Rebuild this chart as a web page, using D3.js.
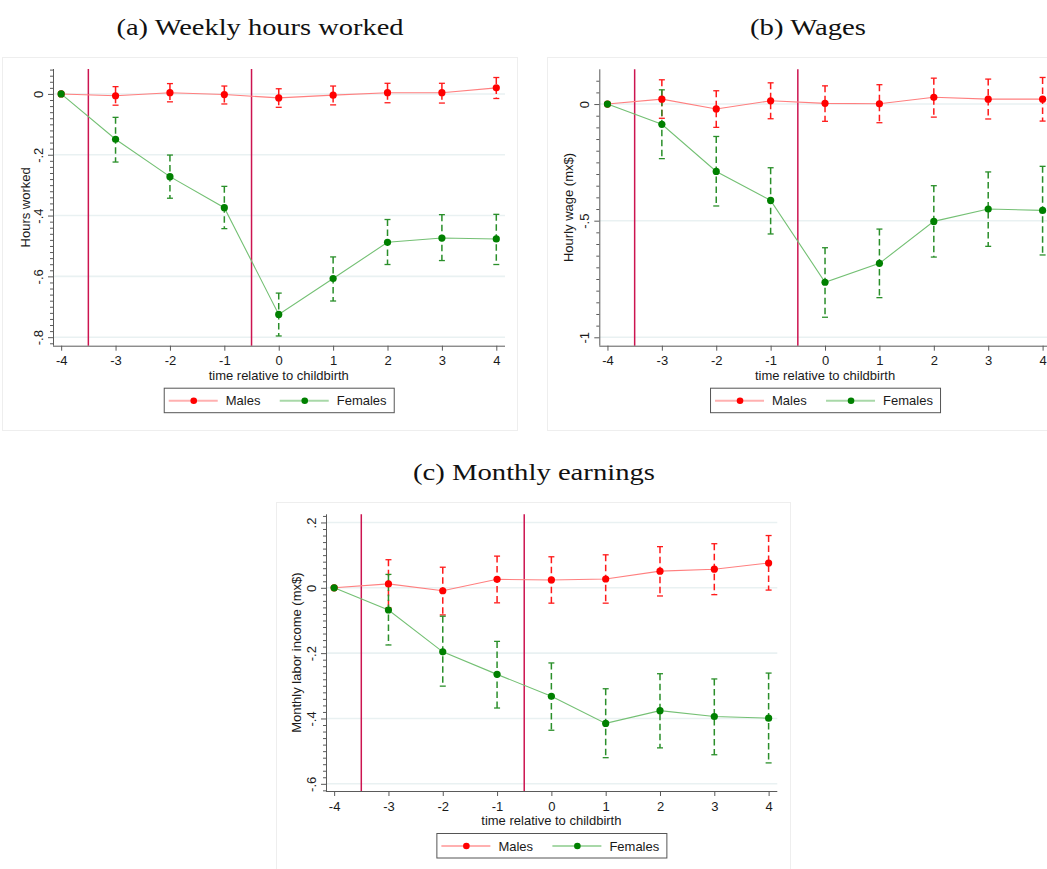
<!DOCTYPE html>
<html><head><meta charset="utf-8">
<script src="https://cdn.jsdelivr.net/npm/d3@7"></script>
<style>html,body{margin:0;padding:0;background:#fff;} svg{display:block;}</style>
</head><body>
<svg id="chart" width="1047" height="869"></svg>
<script>
// ---------------- DATA ----------------
const periods = [-4, -3, -2, -1, 0, 1, 2, 3, 4];
const eventLines = [-3.5, -0.5];
const xTicks = [-4, -3, -2, -1, 0, 1, 2, 3, 4];
const xTickLabels = ["-4", "-3", "-2", "-1", "0", "1", "2", "3", "4"];
const seriesNames = ["Males", "Females"];

// (a) Weekly hours worked
const hoursMale   = [0, -0.006, 0.004, -0.002, -0.013, -0.004, 0.004, 0.004, 0.020];
const hoursMaleLo = [null, -0.037, -0.026, -0.033, -0.044, -0.036, -0.029, -0.030, -0.015];
const hoursMaleHi = [null, 0.024, 0.034, 0.026, 0.017, 0.026, 0.035, 0.035, 0.054];
const hoursFemale   = [0, -0.149, -0.272, -0.374, -0.725, -0.607, -0.488, -0.474, -0.477];
const hoursFemaleLo = [null, -0.224, -0.343, -0.443, -0.796, -0.681, -0.561, -0.548, -0.561];
const hoursFemaleHi = [null, -0.077, -0.201, -0.304, -0.655, -0.536, -0.413, -0.397, -0.396];
const hoursTicks = [0, -0.2, -0.4, -0.6, -0.8];
const hoursTickLabels = ["0", "-.2", "-.4", "-.6", "-.8"];

// (b) Wages
const wageMale   = [0, 0.021, -0.021, 0.014, 0.003, 0.001, 0.029, 0.021, 0.021];
const wageMaleLo = [null, -0.061, -0.100, -0.063, -0.074, -0.080, -0.056, -0.064, -0.073];
const wageMaleHi = [null, 0.104, 0.057, 0.091, 0.078, 0.083, 0.111, 0.107, 0.114];
const wageFemale   = [0, -0.087, -0.289, -0.413, -0.764, -0.683, -0.503, -0.450, -0.456];
const wageFemaleLo = [null, -0.234, -0.437, -0.557, -0.914, -0.830, -0.656, -0.610, -0.647];
const wageFemaleHi = [null, 0.061, -0.139, -0.273, -0.616, -0.536, -0.350, -0.291, -0.267];
const wageTicks = [0, -0.5, -1];
const wageTickLabels = ["0", "-.5", "-1"];

// (c) Monthly earnings
const earnMale   = [0, 0.012, -0.009, 0.026, 0.024, 0.027, 0.051, 0.057, 0.076];
const earnMaleLo = [null, -0.061, -0.083, -0.046, -0.047, -0.047, -0.025, -0.021, -0.007];
const earnMaleHi = [null, 0.086, 0.063, 0.097, 0.095, 0.101, 0.126, 0.135, 0.160];
const earnFemale   = [0, -0.068, -0.196, -0.265, -0.332, -0.415, -0.376, -0.394, -0.399];
const earnFemaleLo = [null, -0.175, -0.301, -0.368, -0.436, -0.520, -0.490, -0.511, -0.536];
const earnFemaleHi = [null, 0.041, -0.087, -0.164, -0.230, -0.309, -0.263, -0.279, -0.261];
const earnTicks = [0.2, 0, -0.2, -0.4, -0.6];
const earnTickLabels = [".2", "0", "-.2", "-.4", "-.6"];

// ---------------- STYLE ----------------
const C = {
  maleMarker: "#ff0000", maleLine: "#ff7f7f", maleCI: "#ff1a1a", maleLegend: "#ffb0b0",
  femMarker: "#008000", femLine: "#74c074", femCI: "#2a8f2a", femLegend: "#a8d8a8",
  vline: "#cc1450", grid: "#e9f1f2", axis: "#5a5a5a", text: "#1a1a1a", frame: "#eeeeee"
};
const SANS = "Liberation Sans, Arial, sans-serif";
const SERIF = "Liberation Serif, Times New Roman, serif";
const FS = 13;

const svg = d3.select("#chart");

function panel(cfg) {
  const g = svg.append("g");
  // frame
  g.append("rect").attr("x", cfg.frame[0] + 0.5).attr("y", cfg.frame[1] + 0.5)
    .attr("width", cfg.frame[2] - cfg.frame[0]).attr("height", cfg.frame[3] - cfg.frame[1])
    .attr("fill", "#fff").attr("stroke", C.frame).attr("stroke-width", 1);

  const x = d3.scaleLinear().domain([-4.15, 4.16]).range([cfg.left, cfg.right]);
  const y = d3.scaleLinear().domain(cfg.ydom).range([cfg.bottom, cfg.top]);

  // grid
  g.append("g").selectAll("line").data(cfg.yTicks).join("line")
    .attr("x1", cfg.left).attr("x2", cfg.right)
    .attr("y1", d => y(d)).attr("y2", d => y(d))
    .attr("stroke", C.grid).attr("stroke-width", 1.6);

  // event lines
  g.append("g").selectAll("line").data(eventLines).join("line")
    .attr("x1", d => x(d)).attr("x2", d => x(d))
    .attr("y1", cfg.top).attr("y2", cfg.bottom)
    .attr("stroke", C.vline).attr("stroke-width", 1.5);

  // y axis (minor ticks)
  const minorStart = Math.ceil(cfg.ydom[0] / cfg.minor - 1e-6);
  const minorEnd = Math.floor(cfg.ydom[1] / cfg.minor + 1e-6);
  const minorTicks = d3.range(minorStart, minorEnd + 1).map(k => k * cfg.minor)
    .filter(v => !cfg.yTicks.some(t => Math.abs(t - v) < 1e-6));
  const yMinor = d3.axisLeft(y).tickValues(minorTicks).tickSize(3).tickFormat("");
  const ym = g.append("g").attr("transform", `translate(${cfg.left},0)`).call(yMinor);
  ym.select(".domain").remove();
  ym.selectAll("line").attr("stroke", C.axis);

  const yAxis = d3.axisLeft(y).tickValues(cfg.yTicks).tickSize(5)
    .tickFormat((d, i) => cfg.yLabels[i]).tickSizeOuter(0);
  const ya = g.append("g").attr("transform", `translate(${cfg.left},0)`).call(yAxis);
  ya.select(".domain").attr("stroke", C.axis).attr("d", `M0.5,${cfg.top}V${cfg.bottom}`);
  ya.selectAll("line").attr("stroke", C.axis);
  ya.selectAll("text")
    .attr("x", null).attr("dy", null)
    .attr("transform", `translate(-10,0) rotate(-90)`)
    .attr("text-anchor", "middle")
    .attr("font-family", SANS).attr("font-size", FS).attr("fill", C.text);

  // x axis
  const xAxis = d3.axisBottom(x).tickValues(xTicks).tickSize(5)
    .tickFormat((d, i) => xTickLabels[i]).tickSizeOuter(0);
  const xa = g.append("g").attr("transform", `translate(0,${cfg.bottom})`).call(xAxis);
  xa.select(".domain").attr("stroke", C.axis).attr("d", `M${cfg.left},0.5H${cfg.right}`);
  xa.selectAll("line").attr("stroke", C.axis);
  xa.selectAll("text").attr("y", 19.5).attr("dy", null)
    .attr("font-family", SANS).attr("font-size", FS).attr("fill", C.text);

  // axis titles
  g.append("text").attr("x", x(0)).attr("y", cfg.bottom + 34)
    .attr("text-anchor", "middle").attr("font-family", SANS).attr("font-size", FS)
    .attr("fill", C.text).text("time relative to childbirth");
  g.append("text")
    .attr("transform", `translate(${cfg.left - cfg.yTitleOff},${(cfg.top + cfg.bottom) / 2}) rotate(-90)`)
    .attr("text-anchor", "middle").attr("font-family", SANS).attr("font-size", FS)
    .attr("fill", C.text).text(cfg.yTitle);

  // series
  const series = [
    { v: cfg.male, lo: cfg.maleLo, hi: cfg.maleHi, line: C.maleLine, ci: C.maleCI, mk: C.maleMarker },
    { v: cfg.fem, lo: cfg.femLo, hi: cfg.femHi, line: C.femLine, ci: C.femCI, mk: C.femMarker }
  ];
  const lineGen = d3.line().x((d, i) => x(periods[i])).y(d => y(d));
  series.forEach(s => {
    g.append("path").attr("d", lineGen(s.v)).attr("fill", "none")
      .attr("stroke", s.line).attr("stroke-width", 1.1);
  });
  series.forEach(s => {
    const ci = periods.map((p, i) => ({ p, lo: s.lo[i], hi: s.hi[i] })).filter(d => d.lo !== null);
    const cg = g.append("g");
    cg.selectAll("line.bar").data(ci).join("line").attr("class", "bar")
      .attr("x1", d => x(d.p)).attr("x2", d => x(d.p))
      .attr("y1", d => y(d.hi)).attr("y2", d => y(d.lo))
      .attr("stroke", s.ci).attr("stroke-width", 1.5).attr("stroke-dasharray", "6.5,3.5");
    cg.selectAll("line.capT").data(ci).join("line").attr("class", "capT")
      .attr("x1", d => x(d.p) - 3).attr("x2", d => x(d.p) + 3)
      .attr("y1", d => y(d.hi)).attr("y2", d => y(d.hi))
      .attr("stroke", s.ci).attr("stroke-width", 1.3);
    cg.selectAll("line.capB").data(ci).join("line").attr("class", "capB")
      .attr("x1", d => x(d.p) - 3).attr("x2", d => x(d.p) + 3)
      .attr("y1", d => y(d.lo)).attr("y2", d => y(d.lo))
      .attr("stroke", s.ci).attr("stroke-width", 1.3);
  });
  series.forEach(s => {
    g.append("g").selectAll("circle").data(s.v).join("circle")
      .attr("cx", (d, i) => x(periods[i])).attr("cy", d => y(d)).attr("r", 3.6)
      .attr("fill", s.mk);
  });

  // legend
  const lw = 230, lh = 24.5;
  const lx = x(0) - lw / 2, ly = cfg.bottom + 42;
  const lg = g.append("g").attr("transform", `translate(${lx},${ly})`);
  lg.append("rect").attr("x", 0.5).attr("y", 0.5).attr("width", lw).attr("height", lh)
    .attr("fill", "#fff").attr("stroke", "#555").attr("stroke-width", 1);
  const items = [
    { name: seriesNames[0], line: C.maleLegend, mk: C.maleMarker, x0: 5 },
    { name: seriesNames[1], line: C.femLegend, mk: C.femMarker, x0: 116 }
  ];
  items.forEach(it => {
    lg.append("line").attr("x1", it.x0).attr("x2", it.x0 + 49)
      .attr("y1", 13).attr("y2", 13).attr("stroke", it.line).attr("stroke-width", 2);
    lg.append("circle").attr("cx", it.x0 + 25).attr("cy", 13).attr("r", 3.3).attr("fill", it.mk);
    lg.append("text").attr("x", it.x0 + 57).attr("y", 17.5)
      .attr("font-family", SANS).attr("font-size", FS).attr("fill", C.text).text(it.name);
  });

  // title
  svg.append("text").attr("x", cfg.titleX).attr("y", cfg.titleY)
    .attr("text-anchor", "middle").attr("font-family", SERIF).attr("font-size", 24)
    .attr("fill", "#111").attr("textLength", cfg.titleW).attr("lengthAdjust", "spacingAndGlyphs")
    .text(cfg.title);
}

panel({
  frame: [2, 57, 517, 430], left: 53, right: 505, top: 69, bottom: 345.7,
  ydom: [-0.828, 0.082], yTicks: hoursTicks, yLabels: hoursTickLabels, minor: 0.02,
  yTitle: "Hours worked", yTitleOff: 23,
  male: hoursMale, maleLo: hoursMaleLo, maleHi: hoursMaleHi,
  fem: hoursFemale, femLo: hoursFemaleLo, femHi: hoursFemaleHi,
  title: "(a) Weekly hours worked", titleX: 260, titleY: 35, titleW: 287
});
panel({
  frame: [547, 57, 1060, 430], left: 599.3, right: 1051.3, top: 69.3, bottom: 345.7,
  ydom: [-1.036, 0.149], yTicks: wageTicks, yLabels: wageTickLabels, minor: 0.05,
  yTitle: "Hourly wage (mx$)", yTitleOff: 26,
  male: wageMale, maleLo: wageMaleLo, maleHi: wageMaleHi,
  fem: wageFemale, femLo: wageFemaleLo, femHi: wageFemaleHi,
  title: "(b) Wages", titleX: 808, titleY: 35, titleW: 116
});
panel({
  frame: [276, 502, 790, 880], left: 326, right: 777.3, top: 514.3, bottom: 791,
  ydom: [-0.622, 0.225], yTicks: earnTicks, yLabels: earnTickLabels, minor: 0.02,
  yTitle: "Monthly labor income (mx$)", yTitleOff: 25,
  male: earnMale, maleLo: earnMaleLo, maleHi: earnMaleHi,
  fem: earnFemale, femLo: earnFemaleLo, femHi: earnFemaleHi,
  title: "(c) Monthly earnings", titleX: 534, titleY: 480, titleW: 242
});
</script>
</body></html>
